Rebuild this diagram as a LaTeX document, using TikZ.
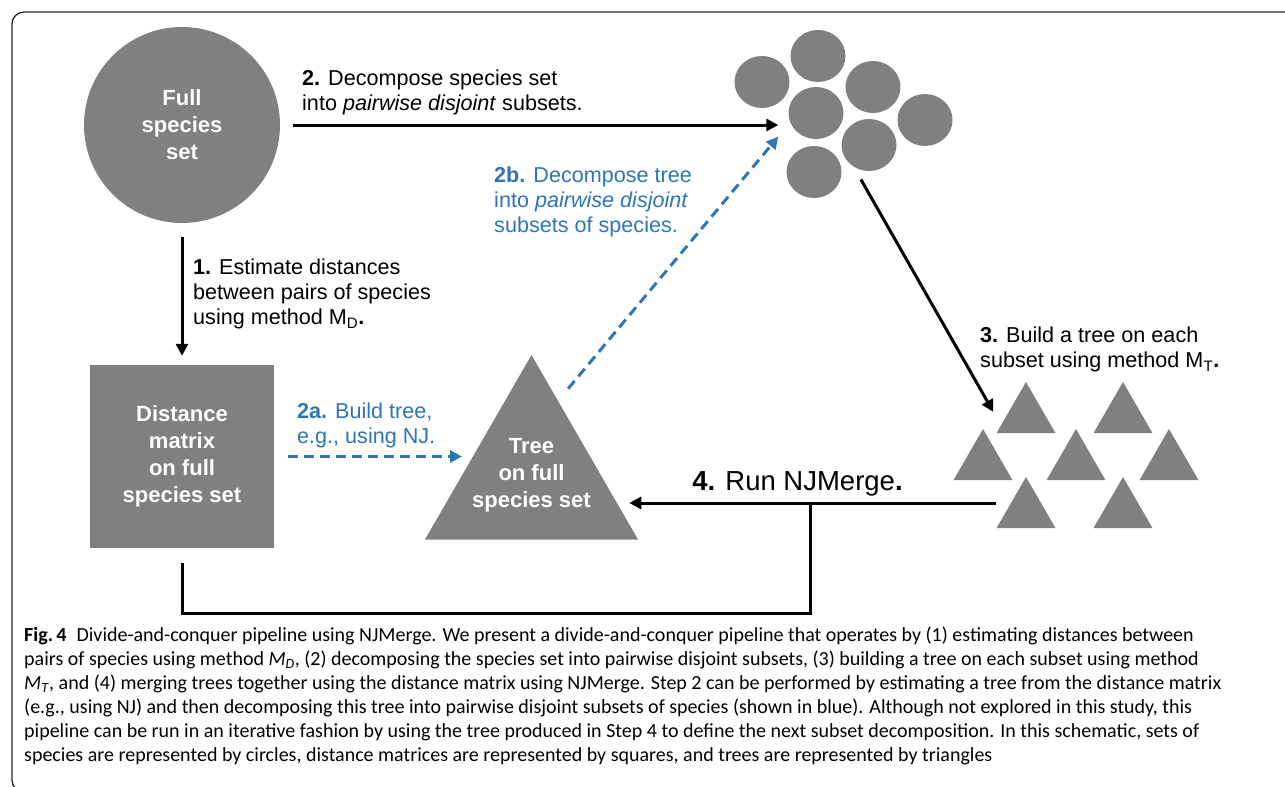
\documentclass[tikz,border=0pt]{standalone}
\usepackage{fontspec}
\setmainfont{Liberation Sans}
\newfontfamily\captionfont{Carlito}
\usetikzlibrary{arrows.meta, shapes.geometric}

\definecolor{shapegray}{RGB}{128,128,128}
\definecolor{njblue}{RGB}{46,117,182}

\begin{document}
\begin{tikzpicture}[
  x=1pt, y=-1pt,
  shapetext/.style = {align=center, inner sep=0pt, text=white, font=\fontsize{22}{27}\selectfont\bfseries},
  setcirc/.style = {circle, fill=shapegray, minimum size=196pt, shapetext},
  matbox/.style = {rectangle, fill=shapegray, minimum width=184pt, minimum height=183pt, shapetext},
  treetri/.style = {regular polygon, regular polygon sides=3, fill=shapegray, inner sep=0pt, minimum size=246pt},
  subset/.style = {ellipse, fill=shapegray, inner sep=0pt, minimum width=55pt, minimum height=52pt},
  subtree/.style = {regular polygon, regular polygon sides=3, fill=shapegray, inner sep=0pt, minimum size=68pt},
  steplabel/.style = {align=left, inner sep=0pt, anchor=north west, font=\fontsize{21.6}{25}\selectfont},
  arrow/.style = {-{Triangle[length=12pt, width=12pt]}, line width=3pt},
  bluearrow/.style = {arrow, njblue, dash pattern=on 10pt off 6pt},
  figframe/.style = {draw=black!85, line width=1.3pt, rounded corners=12pt}
]
\clip (0,0) rectangle (1285,787);

% Frame round the figure
\draw[figframe] (1300,12) -- (12,12) -- (12,792) -- (1300,792);

% Full species set, distance matrix and tree
\node[setcirc] at (182,125) (full) {Full\\species\\set};
\node[matbox] at (182,456.5) (dist) {Distance\\matrix\\on full\\species set};
\node[treetri] at (531.5,478) (tree) {};
\node[shapetext] at (531.5,475.5) (treetxt) {Tree\\on full\\species set};

% Subsets (circles)
\node[subset] at (762,82) (c1) {};
\node[subset] at (818,56) (c2) {};
\node[subset] at (873,87) (c3) {};
\node[subset] at (816,113) (c4) {};
\node[subset] at (925,120) (c5) {};
\node[subset] at (869,145) (c6) {};
\node[subset] at (814,172) (c7) {};

% Subset trees (triangles)
\node[subtree] at (1026,416) (t1) {};
\node[subtree] at (1123,416) (t2) {};
\node[subtree] at (983,463) (t3) {};
\node[subtree] at (1076,463) (t4) {};
\node[subtree] at (1169,463) (t5) {};
\node[subtree] at (1026,511) (t6) {};
\node[subtree] at (1123,511) (t7) {};

% Step labels
\node[steplabel] at (302,70) (lbltwo) {\textbf{2.} Decompose species set\\into \textit{pairwise disjoint} subsets.};
\node[steplabel] at (193,259) (lblone) {\textbf{1.} Estimate distances\\between pairs of species\\using method M\textsubscript{D}\textbf{.}};
\node[steplabel, text=njblue] at (494,167) (lbltwob) {\textbf{2b.} Decompose tree\\into \textit{pairwise disjoint}\\subsets of species.};
\node[steplabel, text=njblue] at (297,403) (lbltwoa) {\textbf{2a.} Build tree,\\e.g., using NJ.};
\node[steplabel] at (980,327) (lblthree) {\textbf{3.} Build a tree on each\\subset using method M\textsubscript{T}\textbf{.}};
\node[anchor=base, inner sep=0pt, font=\fontsize{27.5}{32}\selectfont] at (797.5,490) (lblfour) {\textbf{4.} Run NJMerge\textbf{.}};

% Arrows
\draw[arrow, shorten <=14pt, shorten >=9pt] (full.south) -- (dist.north);
\draw[arrow, shorten <=13pt, shorten >=10pt] (full.east) -- (full.east -| c4.west);
\draw[bluearrow, shorten <=14pt, shorten >=69.5pt] (dist.east) -- (dist.east -| tree.center);
\draw[bluearrow, shorten <=15.6pt, shorten >=18.5pt] (tree.71) -- (c4.200);
\draw[arrow, shorten <=14.5pt, shorten >=15.3pt] (c6.235) -- (t1.200);

% Merging step
\coordinate (merge) at (810,503);
\draw[arrow, shorten >=26.5pt] (merge -| t6.corner 2) -- (merge -| tree.east);
\draw[line width=3pt, shorten <=15pt] (dist.south) -- ++(0,65) -| (merge);

% Caption
\node[anchor=north west, align=left, inner sep=0pt, font=\captionfont\fontsize{20}{24}\selectfont] at (24,627) (caption) {\textbf{Fig.\,4}\enspace Divide-and-conquer pipeline using NJMerge. We present a divide-and-conquer pipeline that operates by (1) estimating distances between\\
pairs of species using method \textit{M}\textsubscript{\textit{D}}, (2) decomposing the species set into pairwise disjoint subsets, (3) building a tree on each subset using method\\
\textit{M}\textsubscript{\textit{T}}, and (4) merging trees together using the distance matrix using NJMerge. Step 2 can be performed by estimating a tree from the distance matrix\\
(e.g., using NJ) and then decomposing this tree into pairwise disjoint subsets of species (shown in blue). Although not explored in this study, this\\
pipeline can be run in an iterative fashion by using the tree produced in Step 4 to define the next subset decomposition. In this schematic, sets of\\
species are represented by circles, distance matrices are represented by squares, and trees are represented by triangles};

\end{tikzpicture}
\end{document}
